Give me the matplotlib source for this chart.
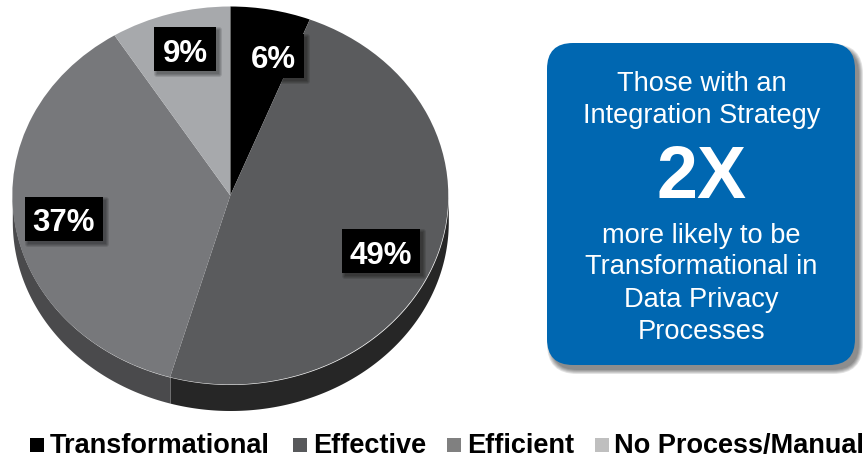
import numpy as np
import matplotlib
matplotlib.use('Agg')
import matplotlib.pyplot as plt
from matplotlib.patches import FancyBboxPatch, Rectangle

plt.rcParams['font.family'] = ['Liberation Sans', 'DejaVu Sans']

categories = ['Transformational', 'Effective', 'Efficient', 'No Process/Manual']
values = [6, 49, 37, 9]
slice_labels = ['6%', '49%', '37%', '9%']
slice_colors = ['#000000', '#5a5b5d', '#77787b', '#a7a9ac']
side_colors = ['#000000', '#262626', '#4a4a4c', '#6a6b6d']
legend_colors = ['#000000', '#58595b', '#808080', '#bfbfbf']

W, H = 868, 460
CX, CY, RX, RY = 230.3, 196.5, 218, 189
DEPTH = 26 / RY


def soft_shadow(ax, x, y, w, h, radius=0.0, dx=3, dy=3, spread=4, zorder=3):
    # stacked translucent boxes, poor man's blur
    for i in range(spread, 0, -1):
        grow = i - 1
        ax.add_patch(FancyBboxPatch((x + dx - grow, y + dy - grow), w + 2 * grow, h + 2 * grow,
                                    boxstyle='round,pad=0,rounding_size=%f' % (radius + grow),
                                    fc='#000000', ec='none', alpha=0.11, zorder=zorder))


fig = plt.figure(figsize=(W / 100, H / 100), dpi=100)

# pie axes: one data unit is the pie radius, squashed to an ellipse
ax = fig.add_axes([0, 0, 1, 1])
ax.pie(values, colors=slice_colors, startangle=90, counterclock=False,
       wedgeprops={'linewidth': 0, 'zorder': 2})
ax.set_aspect('auto')
ax.set_xlim(-CX / RX, (W - CX) / RX)
ax.set_ylim((CY - H) / RY, CY / RY)

# side wall of the disc, angles come from the values
edges = np.cumsum([0] + values) / sum(values) * 2 * np.pi
for start, stop, col in zip(edges[:-1], edges[1:], side_colors):
    a = np.linspace(max(start, np.pi / 2), min(stop, 3 * np.pi / 2), 200)
    if a[-1] <= a[0]:
        continue
    ax.fill_between(np.sin(a), np.cos(a), np.cos(a) - DEPTH, color=col, lw=0, zorder=1)

# overlay in pixel coordinates for boxes and text
ov = fig.add_axes([0, 0, 1, 1])
ov.set_xlim(0, W)
ov.set_ylim(H, 0)
ov.axis('off')
ov.patch.set_alpha(0)

label_boxes = [(242, 35, 62, 44), (342, 230, 78, 44), (25, 198, 78, 44), (154, 28, 62, 44)]
for (x, y, w, h), txt in zip(label_boxes, slice_labels):
    soft_shadow(ov, x, y, w, h)
    ov.add_patch(Rectangle((x, y), w, h, fc='black', ec='none', zorder=4))
    ov.text(x + w / 2, y + h / 2 + 3.5, txt, color='white', fontsize=22.5, fontweight='bold',
            ha='center', va='center', zorder=5)

# blue callout
soft_shadow(ov, 547, 44, 308, 322, radius=26, dx=4, dy=5, spread=5)
ov.add_patch(FancyBboxPatch((547, 44), 308, 322, boxstyle='round,pad=0,rounding_size=26',
                            fc='#0067b1', ec='none', zorder=4))
callout_lines = ['Those with an', 'Integration Strategy', 'more likely to be',
                 'Transformational in', 'Data Privacy', 'Processes']
callout_y = [84, 116, 236, 267, 300, 332]
for line, y in zip(callout_lines, callout_y):
    ov.text(701.5, y, line, color='white', fontsize=19.6, ha='center', va='center', zorder=5)
ov.text(701.5, 179, '2X', color='white', fontsize=53, fontweight='bold', ha='center', va='center', zorder=5)

# legend
legend_sq = [30, 293, 447, 595]
legend_txt = [50, 313, 467, 614]
for sq, tx, name, col in zip(legend_sq, legend_txt, categories, legend_colors):
    ov.add_patch(Rectangle((sq, 439), 14, 14, fc=col, ec='none'))
    ov.text(tx, 446, name, color='black', fontsize=19.5, fontweight='bold', ha='left', va='center')

fig.savefig('out.png', dpi=100)
